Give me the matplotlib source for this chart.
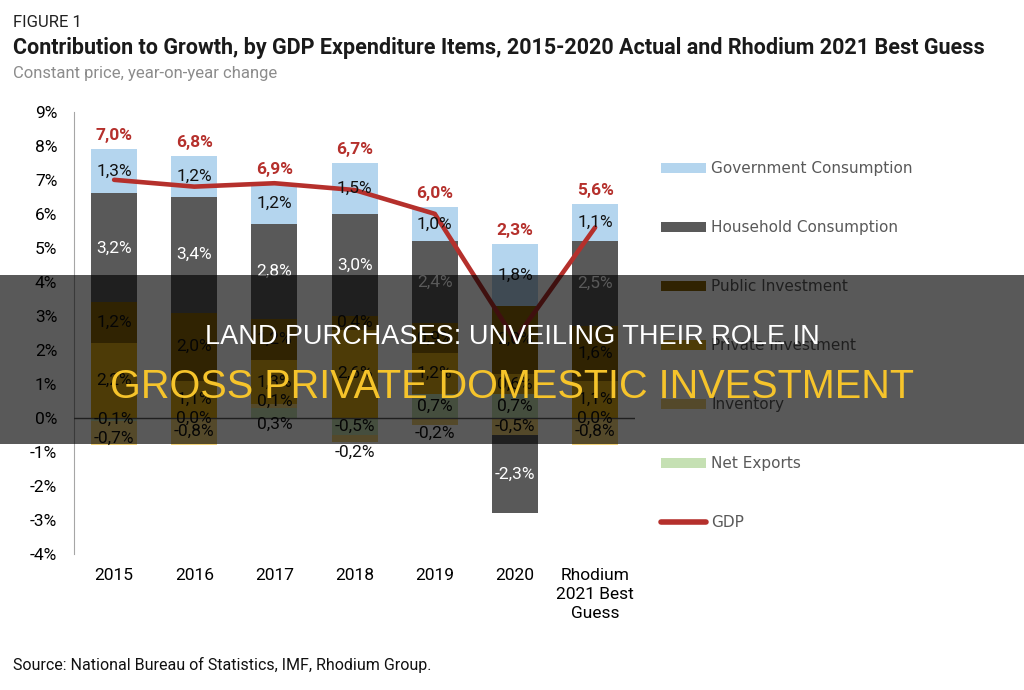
import matplotlib
matplotlib.use('Agg')
import matplotlib.pyplot as plt
from matplotlib import font_manager
from matplotlib.patches import Patch, Rectangle
from matplotlib.lines import Line2D
import numpy as np

# ---- data (percentage points, constant price y/y) ----
YEARS = ['2015', '2016', '2017', '2018', '2019', '2020', 'Rhodium\n2021 Best\nGuess']
GOV_CONSUMPTION = [1.3, 1.2, 1.2, 1.5, 1.0, 1.8, 1.1]
HOUSEHOLD_CONSUMPTION = [3.2, 3.4, 2.8, 3.0, 2.4, -2.3, 2.5]
PUBLIC_INVESTMENT = [1.2, 2.0, 1.2, 0.4, 0.9, 2.0, 1.6]
PRIVATE_INVESTMENT = [2.2, 1.1, 1.3, 2.6, 1.2, 0.6, 1.1]
INVENTORY = [-0.7, -0.8, 0.1, -0.2, -0.2, -0.5, -0.8]
NET_EXPORTS = [-0.1, 0.0, 0.3, -0.5, 0.7, 0.7, 0.0]
GDP = [7.0, 6.8, 6.9, 6.7, 6.0, 2.3, 5.6]

Y_TICKS = list(range(-4, 10))

# font choice: narrow face for the chart text if it is there
installed = {f.name for f in font_manager.fontManager.ttflist}
NARROW = 'Liberation Sans Narrow' if 'Liberation Sans Narrow' in installed else 'Roboto'

# stacking order, bottom first: (label, values, colour, label colour)
SERIES = [
    ('Net Exports', NET_EXPORTS, '#c5e0b3', '#111111'),
    ('Inventory', INVENTORY, '#f2d27a', '#111111'),
    ('Private Investment', PRIVATE_INVESTMENT, '#dcaa16', '#111111'),
    ('Public Investment', PUBLIC_INVESTMENT, '#8a6508', '#111111'),
    ('Household Consumption', HOUSEHOLD_CONSUMPTION, '#595959', 'white'),
    ('Government Consumption', GOV_CONSUMPTION, '#b4d5ee', '#111111'),
]
GDP_COLOR = '#b5302c'

# hand nudges for labels of thin segments (series, bar index) -> shift in %
LABEL_NUDGE = {
    ('Net Exports', 2): -0.35,
    ('Inventory', 2): 0.15,
    ('Inventory', 3): -0.4,
    ('Inventory', 4): -0.35,
    ('Inventory', 0): -0.15,
}


def fmt(v):
    return f"{v:.1f}%".replace('.', ',')


fig = plt.figure(figsize=(10.24, 6.9), dpi=100)
ax = fig.add_axes([0.0723, 0.197, 0.548, 0.641])

x = np.arange(len(YEARS))
width = 0.575
pos_base = np.zeros(len(YEARS))
neg_base = np.zeros(len(YEARS))

for name, vals, color, tcolor in SERIES:
    vals = np.array(vals, dtype=float)
    bottoms = np.where(vals >= 0, pos_base, neg_base)
    ax.bar(x, vals, width, bottom=bottoms, color=color, linewidth=0, zorder=2)
    for i, v in enumerate(vals):
        yc = bottoms[i] + v / 2 + LABEL_NUDGE.get((name, i), 0)
        ax.text(x[i], yc, fmt(v), ha='center', va='center', fontsize=12.5,
                color=tcolor, family=NARROW, zorder=4)
    pos_base = np.where(vals >= 0, pos_base + vals, pos_base)
    neg_base = np.where(vals < 0, neg_base + vals, neg_base)

ax.plot(x, GDP, color=GDP_COLOR, lw=3.3, zorder=3, solid_capstyle='round')
for i, g in enumerate(GDP):
    ax.text(x[i], pos_base[i] + 0.4, fmt(g), ha='center', va='center', fontsize=12.5,
            color=GDP_COLOR, fontweight='bold', family=NARROW, zorder=4)

ax.axhline(0, color='#595959', lw=1, zorder=3)
ax.set_xlim(-0.5, 6.5)
ax.set_ylim(-4, 9)
ax.set_yticks(Y_TICKS)
ax.set_yticklabels([f"{t}%" for t in Y_TICKS], family=NARROW, fontsize=12.5)
ax.set_xticks(x)
ax.set_xticklabels(YEARS, family=NARROW, fontsize=12.5, linespacing=1.35)
ax.tick_params(length=0)
ax.tick_params(axis='y', pad=12)
ax.tick_params(axis='x', pad=10)
for s in ['top', 'right', 'bottom']:
    ax.spines[s].set_visible(False)
ax.spines['left'].set_color('#a6a6a6')

# legend (top to bottom: reverse of stacking, then GDP)
handles = [Patch(facecolor=c, label=n) for n, _, c, _ in SERIES[::-1]]
handles.append(Line2D([], [], color=GDP_COLOR, lw=4, solid_capstyle='round', label='GDP'))
leg = fig.legend(handles=handles, loc='upper left', bbox_to_anchor=(0.6455, 0.766),
                 frameon=False, fontsize=11, handlelength=2.95, handleheight=0.6,
                 handletextpad=0.35, labelspacing=2.88, borderpad=0, borderaxespad=0)
for t in leg.get_texts():
    t.set_color('#595959')

# headings and source
fig.text(0.013, 0.968, 'FIGURE 1', fontsize=12, color='#222222', family=NARROW, va='center')
fig.text(0.013, 0.930, 'Contribution to Growth, by GDP Expenditure Items, 2015-2020 Actual and Rhodium 2021 Best Guess',
         fontsize=15.5, fontweight='bold', color='#1a1a1a', family=NARROW, va='center')
fig.text(0.013, 0.894, 'Constant price, year-on-year change', fontsize=12, color='#8c8c8c',
         family=NARROW, va='center')
fig.text(0.013, 0.036, 'Source: National Bureau of Statistics, IMF, Rhodium Group.', fontsize=11.5,
         color='#111111', family=NARROW, va='center')

# dark banner across the middle
fig.add_artist(Rectangle((0, 0.3565), 1, 0.245, transform=fig.transFigure,
                         facecolor='black', alpha=0.65, linewidth=0, zorder=10))
fig.text(0.5, 0.512, 'LAND PURCHASES: UNVEILING THEIR ROLE IN', fontsize=19.5, color='white',
         family='Liberation Sans', ha='center', va='center', zorder=11)
fig.text(0.5, 0.439, 'GROSS PRIVATE DOMESTIC INVESTMENT', fontsize=28.5, color='#f6c42b',
         family='Liberation Sans', ha='center', va='center', zorder=11)

fig.savefig('out.png', dpi=100)
